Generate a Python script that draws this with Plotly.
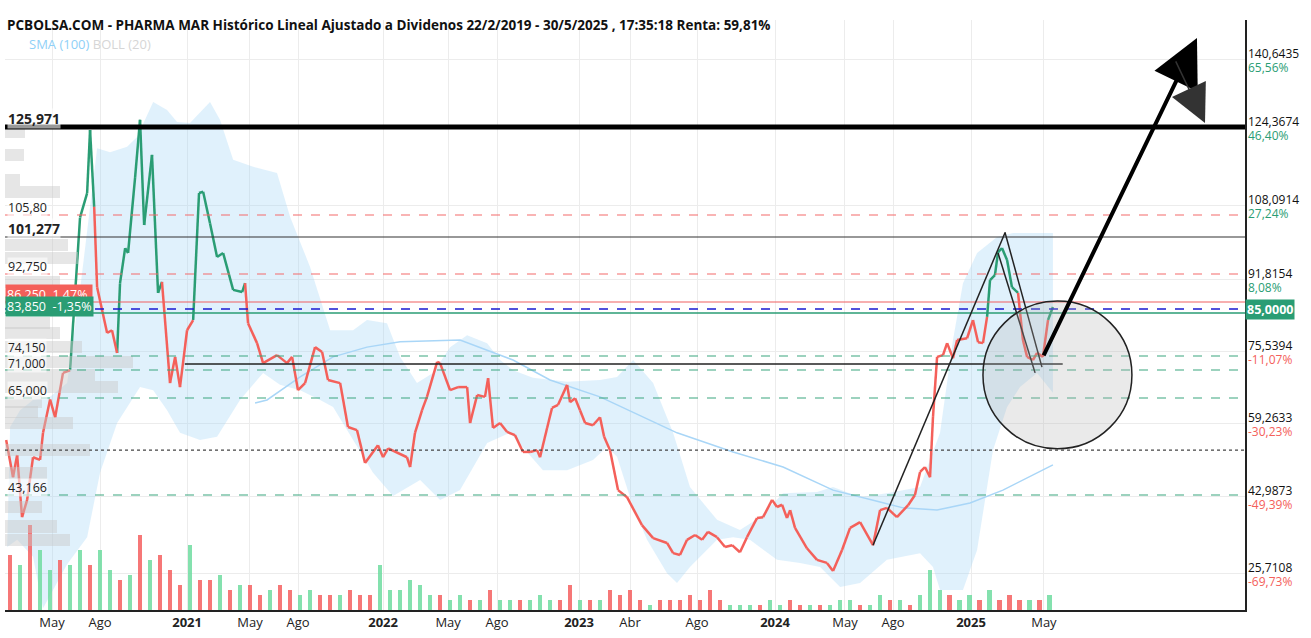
import numpy as np
import plotly.graph_objects as go

# ---- data (x in decimal years, y in adjusted price) ----
price_t = [2020.077, 2020.112, 2020.133, 2020.158, 2020.184, 2020.214, 2020.250, 2020.265, 2020.301, 2020.327,
           2020.367, 2020.403, 2020.454, 2020.490, 2020.505, 2020.526, 2020.541, 2020.592, 2020.617, 2020.643,
           2020.658, 2020.684, 2020.699, 2020.735, 2020.760, 2020.781, 2020.821, 2020.852, 2020.872, 2020.913,
           2020.939, 2020.964, 2021.000, 2021.031, 2021.061, 2021.082, 2021.117, 2021.153, 2021.184, 2021.235,
           2021.281, 2021.296, 2021.311, 2021.357, 2021.388, 2021.459, 2021.510, 2021.536, 2021.566, 2021.602,
           2021.653, 2021.689, 2021.719, 2021.781, 2021.821, 2021.867, 2021.908, 2021.974, 2022.000, 2022.026,
           2022.122, 2022.138, 2022.163, 2022.199, 2022.224, 2022.276, 2022.291, 2022.342, 2022.383, 2022.429,
           2022.444, 2022.480, 2022.520, 2022.536, 2022.561, 2022.597, 2022.633, 2022.673, 2022.714, 2022.750,
           2022.786, 2022.801, 2022.837, 2022.862, 2022.893, 2022.939, 2022.954, 2022.980, 2023.005, 2023.031,
           2023.071, 2023.107, 2023.128, 2023.158, 2023.199, 2023.245, 2023.321, 2023.378, 2023.449, 2023.480,
           2023.515, 2023.551, 2023.592, 2023.628, 2023.658, 2023.704, 2023.745, 2023.781, 2023.821, 2023.857,
           2023.908, 2023.939, 2023.985, 2024.010, 2024.036, 2024.061, 2024.077, 2024.102, 2024.163, 2024.214,
           2024.265, 2024.296, 2024.342, 2024.383, 2024.434, 2024.500, 2024.536, 2024.571, 2024.622, 2024.679,
           2024.714, 2024.740, 2024.765, 2024.791, 2024.806, 2024.827, 2024.857, 2024.878, 2024.908, 2024.929,
           2024.980, 2025.010, 2025.036, 2025.061, 2025.082, 2025.097, 2025.122, 2025.138, 2025.158, 2025.184,
           2025.209, 2025.240, 2025.265, 2025.286, 2025.316, 2025.337, 2025.367, 2025.393, 2025.418]
price = [53.9, 45.5, 50.5, 36.5, 40.4, 50.0, 49.4, 55.5, 63.0, 59.0,
         69.0, 69.6, 104.0, 109.5, 123.7, 106.4, 88.3, 78.0, 78.6, 73.5,
         89.2, 97.1, 96.0, 113.1, 126.0, 102.3, 118.1, 87.0, 89.5, 66.7,
         72.6, 65.8, 78.6, 80.9, 109.5, 109.8, 102.7, 95.1, 96.0, 87.7,
         87.2, 89.2, 80.2, 75.7, 71.2, 73.0, 71.2, 72.6, 65.1, 66.7,
         74.8, 73.7, 67.4, 66.7, 56.8, 56.1, 48.7, 52.7, 50.0, 52.0,
         50.0, 47.8, 55.5, 60.6, 63.6, 71.5, 71.2, 65.1, 65.8, 65.8,
         57.7, 64.0, 63.6, 67.8, 56.6, 57.7, 55.7, 55.0, 51.2, 51.2,
         51.6, 50.0, 56.6, 61.1, 61.8, 66.3, 62.4, 63.3, 60.6, 57.7,
         57.2, 59.0, 54.6, 51.6, 42.6, 41.0, 34.7, 31.8, 30.7, 28.4,
         28.0, 31.4, 32.5, 31.4, 33.2, 32.0, 29.8, 30.2, 28.6, 32.0,
         36.3, 36.5, 40.4, 38.8, 39.3, 36.3, 38.1, 34.1, 29.5, 26.9,
         26.2, 24.4, 29.1, 34.1, 35.4, 30.2, 38.1, 38.6, 36.5, 39.2,
         41.5, 46.7, 47.8, 45.5, 59.1, 72.6, 73.0, 75.7, 72.3, 76.4,
         76.8, 80.9, 75.9, 75.7, 81.6, 89.9, 91.0, 96.2, 97.1, 94.4,
         88.3, 87.0, 76.4, 72.6, 71.9, 73.5, 72.6, 80.9, 83.85]
# periods drawn in green (start, end)
up_runs = [(2020.403, 2020.526), (2020.643, 2020.872), (2021.031, 2021.296),
           (2025.082, 2025.240), (2025.393, 2025.418)]

sma_t = [2021.347, 2021.408, 2021.577, 2021.745, 2021.918, 2022.087, 2022.393, 2022.663, 2022.852, 2023.107,
         2023.500, 2023.786, 2024.041, 2024.296, 2024.536, 2024.653, 2024.827, 2024.995, 2025.163, 2025.418]
sma = [62.2, 62.9, 68.1, 72.6, 74.8, 76.0, 76.4, 71.9, 67.4, 63.6,
       55.5, 51.2, 47.8, 42.6, 39.9, 38.6, 38.1, 39.7, 42.6, 48.3]

boll_up_t = [2020.097, 2020.148, 2020.214, 2020.301, 2020.388, 2020.454, 2020.541, 2020.607, 2020.694, 2020.745,
             2020.827, 2020.898, 2020.949, 2021.015, 2021.117, 2021.168, 2021.235, 2021.337, 2021.459, 2021.526,
             2021.628, 2021.730, 2021.847, 2021.918, 2022.020, 2022.087, 2022.173, 2022.255, 2022.342, 2022.429,
             2022.531, 2022.597, 2022.663, 2022.765, 2022.939, 2023.107, 2023.194, 2023.276, 2023.378, 2023.480,
             2023.566, 2023.704, 2023.821, 2023.923, 2024.041, 2024.214, 2024.296, 2024.434, 2024.571, 2024.740,
             2024.842, 2024.908, 2024.959, 2025.031, 2025.133, 2025.214, 2025.418]
boll_up = [56.8, 60.6, 62.9, 63.6, 66.7, 87.7, 119.6, 118.7, 119.9, 122.1,
           130.0, 128.2, 125.5, 125.3, 130.0, 126.0, 117.0, 115.4, 114.0, 104.1,
           92.8, 78.6, 78.6, 80.9, 80.2, 72.6, 66.7, 69.0, 74.8, 77.5,
           75.7, 71.9, 69.6, 67.9, 67.0, 67.4, 68.1, 71.9, 66.7, 55.5,
           43.3, 35.9, 33.6, 36.5, 41.9, 42.2, 43.3, 41.0, 41.9, 43.3,
           55.5, 76.4, 89.2, 96.0, 99.6, 100.5, 100.5]
boll_lo_t = [2020.082, 2020.133, 2020.214, 2020.265, 2020.388, 2020.490, 2020.556, 2020.643, 2020.760, 2020.827,
             2020.898, 2020.964, 2021.066, 2021.153, 2021.270, 2021.388, 2021.474, 2021.577, 2021.679, 2021.745,
             2021.847, 2021.949, 2022.051, 2022.189, 2022.291, 2022.393, 2022.531, 2022.648, 2022.816, 2022.939,
             2023.071, 2023.143, 2023.194, 2023.276, 2023.347, 2023.449, 2023.500, 2023.566, 2023.704, 2023.786,
             2023.872, 2024.010, 2024.128, 2024.230, 2024.332, 2024.434, 2024.571, 2024.740, 2024.806, 2024.842,
             2024.959, 2025.031, 2025.112, 2025.184, 2025.250, 2025.337, 2025.418]
boll_lo = [29.8, 31.4, 27.6, 16.0, 25.9, 32.0, 46.5, 57.7, 65.8, 65.1,
           60.6, 55.5, 53.9, 54.6, 62.9, 69.0, 66.3, 65.1, 62.9, 61.3,
           53.9, 46.5, 41.3, 44.9, 40.4, 42.6, 53.2, 55.5, 47.1, 47.1,
           49.4, 52.3, 50.1, 38.8, 31.4, 23.9, 21.7, 25.3, 31.4, 32.0,
           31.4, 26.9, 26.2, 25.3, 20.8, 21.7, 26.9, 28.4, 25.3, 20.1,
           20.1, 29.1, 51.6, 61.3, 65.8, 69.0, 64.5]

volume = [55, 45, 85, 60, 40, 50, 45, 60, 45, 60,
          40, 30, 35, 75, 50, 55, 40, 25, 65, 30,
          30, 35, 20, 25, 25, 15, 20, 25, 20, 15,
          20, 15, 15, 15, 20, 15, 15, 45, 20, 20,
          30, 25, 15, 15, 10, 15, 10, 10, 20, 10,
          10, 10, 10, 15, 10, 10, 25, 10, 10, 10,
          20, 15, 20, 10, 5, 10, 10, 10, 15, 10,
          20, 10, 5, 5, 5, 5, 10, 5, 10, 5,
          5, 5, 5, 10, 10, 5, 5, 15, 10, 10,
          5, 15, 40, 20, 15, 10, 15, 10, 20, 10,
          15, 10, 10, 10, 15]
vol_dir = ("rgrggrggrg" "grgrgrrrgr" "rgrgrrgrrg" "grrgrrrggg" "gggrggrgrg"
           "grgggrrgrg" "rrrrgrrrrr" "rrgggrggrr" "grgggrggrg" "rgggrggrgr" "rrgrg")
vol_t = 2020.097 + np.arange(len(volume)) * 0.051

# volume-at-price profile on the left
profile_price = [123.3, 118.1, 112.4, 109.7, 97.8, 94.9, 89.5, 80.2, 78.0, 74.8, 71.4,
                 68.5, 65.8, 62.4, 60.2, 57.7, 51.6, 46.5, 38.8, 34.4, 31.4]
profile_vol = [20, 19, 15, 55, 63, 73, 55, 45, 55, 77, 128,
               90, 113, 37, 33, 68, 85, 42, 37, 52, 65]

axis_vals = [139.68, 124.26, 106.80, 90.14, 73.92, 57.71, 41.05, 23.93]
axis_text = ["140,6435", "124,3674", "108,0914", "91,8154", "75,5394", "59,2633", "42,9873", "25,7108"]
axis_pct = ["65,56%", "46,40%", "27,24%", "8,08%", "-11,07%", "-30,23%", "-49,39%", "-69,73%"]

x_ticks = [2020.311, 2020.556, 2021.0, 2021.321, 2021.566, 2022.0, 2022.332, 2022.582,
           2023.0, 2023.26, 2023.602, 2024.0, 2024.357, 2024.602, 2025.0, 2025.372]
x_labels = ["May", "Ago", "<b>2021</b>", "May", "Ago", "<b>2022</b>", "May", "Ago",
            "<b>2023</b>", "Abr", "Ago", "<b>2024</b>", "May", "Ago", "<b>2025</b>", "May"]

GREEN = "#2a9d74"
RED = "#f4605a"

fig = go.Figure()

# volume profile
fig.add_trace(go.Bar(x=profile_vol, y=profile_price, orientation="h", width=2.8, xaxis="x2",
                     marker=dict(color="rgba(200,200,200,0.45)", line=dict(width=0)), showlegend=False))

# bollinger band
fig.add_trace(go.Scatter(x=boll_up_t + boll_lo_t[::-1], y=boll_up + boll_lo[::-1], fill="toself",
                         fillcolor="rgba(160,210,245,0.32)", line=dict(width=0), hoverinfo="skip",
                         showlegend=False))
fig.add_trace(go.Scatter(x=sma_t, y=sma, mode="lines", line=dict(color="#a9d6f7", width=1.5),
                         showlegend=False))

# volume
vol_col = ["rgba(110,220,160,0.85)" if d == "g" else "rgba(245,95,95,0.85)" for d in vol_dir]
fig.add_trace(go.Bar(x=vol_t, y=volume, marker=dict(color=vol_col, line=dict(width=0)),
                     width=0.022, yaxis="y2", showlegend=False))

# price line, coloured by runs
def is_up(a, b):
    return any(s <= a and b <= e for s, e in up_runs)

segs = {GREEN: ([], []), RED: ([], [])}
for i in range(len(price) - 1):
    c = GREEN if is_up(price_t[i], price_t[i + 1]) else RED
    xs, ys = segs[c]
    xs += [price_t[i], price_t[i + 1], None]
    ys += [price[i], price[i + 1], None]
for c, (xs, ys) in segs.items():
    fig.add_trace(go.Scatter(x=xs, y=ys, mode="lines", line=dict(color=c, width=2.5),
                             showlegend=False))

# horizontal levels
def hline(y, color, width=1, dash="solid", x0=0, x1=1):
    fig.add_shape(type="line", xref="paper", yref="y", x0=x0, x1=x1, y0=y, y1=y,
                  line=dict(color=color, width=width, dash=dash))

hline(124.37, "black", 5)
hline(104.55, "#f36b6b", 1.2, "dash")
hline(99.6, "#333", 1.2)
hline(91.27, "#f36b6b", 1.2, "dash")
hline(84.96, "#f06060", 1.2)
hline(83.38, "#1a1ad0", 1.5, "dash")
hline(82.5, GREEN, 1.5)
hline(72.8, "#3aa57e", 1.2, "dash")
hline(71.0, "#222", 1.3, x0=0.145, x1=0.853)
hline(69.65, "#3aa57e", 1.2, "dash")
hline(63.34, "#3aa57e", 1.2, "dash")
hline(51.6, "#444", 1.3, "dot")
hline(41.5, "#3aa57e", 1.2, "dash")

# hand-drawn trend lines and circle
for x0, y0, x1, y1 in [(2024.500, 30.2, 2025.173, 100.5), (2025.138, 96.0, 2025.327, 69.0),
                       (2025.173, 100.7, 2025.362, 70.3)]:
    fig.add_shape(type="line", x0=x0, y0=y0, x1=x1, y1=y1, line=dict(color="#222", width=1.5))
fig.add_shape(type="circle", x0=2025.061, x1=2025.821, y0=51.9, y1=85.2,
              fillcolor="rgba(180,180,180,0.28)", line=dict(color="#222", width=1.5))
fig.add_annotation(x=2026.153, y=144.4, ax=2025.367, ay=72.6, axref="x", ayref="y",
                   showarrow=True, arrowhead=2, arrowwidth=4, arrowsize=2.4, arrowcolor="black", text="")
fig.add_annotation(x=2026.194, y=125.3, ax=2026.041, ay=139.5, axref="x", ayref="y",
                   showarrow=True, arrowhead=2, arrowwidth=1.5, arrowsize=5, arrowcolor="#333", text="")

# right axis labels
for v, t, p in zip(axis_vals, axis_text, axis_pct):
    fig.add_annotation(xref="paper", x=1, y=v, xanchor="left", xshift=1, yshift=6, text=t,
                       showarrow=False, font=dict(size=12, color="#111"))
    fig.add_annotation(xref="paper", x=1, y=v, xanchor="left", xshift=1, yshift=-8, text=p,
                       showarrow=False, font=dict(size=12, color=GREEN if not p.startswith("-") else RED))
fig.add_annotation(xref="paper", x=1, y=83.3, xanchor="left", xshift=0, text="<b>85,0000</b>",
                   showarrow=False, bgcolor=GREEN, font=dict(size=12.5, color="white"), borderpad=1)

# left level labels
left_labels = [(126.4, "<b>125,971</b>", 14), (106.35, "105,80", 12.5), (101.6, "<b>101,277</b>", 14),
               (93.07, "92,750", 12.5), (74.8, "74,150", 12), (71.1, "71,000", 12),
               (65.14, "65,000", 12.5), (43.3, "43,166", 12.5)]
for y, t, s in left_labels:
    fig.add_annotation(xref="paper", x=0.002, y=y, xanchor="left", text=t, showarrow=False,
                       font=dict(size=s, color="#222"), bgcolor="rgba(255,255,255,0.6)", borderpad=0)
fig.add_annotation(xref="paper", x=0.0, y=86.76, xanchor="left", text="86,250  1,47% ", showarrow=False,
                   font=dict(size=12.5, color="white"), bgcolor=RED, borderpad=1)
fig.add_annotation(xref="paper", x=0.0, y=84.06, xanchor="left", text="83,850  -1,35%", showarrow=False,
                   font=dict(size=12.5, color="white"), bgcolor=GREEN, borderpad=1)

# header
fig.add_annotation(xref="paper", yref="paper", x=0.0, y=1.0102, xanchor="left",
                   text="<b>PCBOLSA.COM - PHARMA MAR Histórico Lineal Ajustado a Dividenos 22/2/2019 - 30/5/2025 , 17:35:18 Renta: 59,81%</b>",
                   showarrow=False, font=dict(size=13.5, color="#111"))
fig.add_annotation(xref="paper", yref="paper", x=0.018, y=0.978, xanchor="left",
                   text="<span style='color:#8fd0f7'>SMA (100)</span> <span style='color:#d6d6d6'>BOLL (20)</span>",
                   showarrow=False, font=dict(size=13))

fig.update_layout(
    width=1311, height=638,
    margin=dict(l=5, r=66, t=20, b=28, autoexpand=False),
    plot_bgcolor="white", paper_bgcolor="white",
    font=dict(family="Open Sans, Arial", color="#222"),
    bargap=0,
    xaxis=dict(range=[2020.071, 2026.398], tickvals=x_ticks, ticktext=x_labels, showgrid=True,
               gridcolor="#ececec", showline=True, linecolor="#222", linewidth=1.5, ticks="",
               tickfont=dict(size=13, color="#222"), zeroline=False, automargin=False),
    xaxis2=dict(range=[0, 1240], overlaying="x", visible=False),
    yaxis=dict(range=[15.6, 148.47], side="right", tickvals=axis_vals, showticklabels=False,
               showgrid=True, gridcolor="#ececec", showline=True, linecolor="#222", linewidth=1.5,
               zeroline=False, automargin=False),
    yaxis2=dict(range=[0, 590], overlaying="y", visible=False),
    showlegend=False,
)

fig.write_html("out.html", config={"displayModeBar": False},
               post_script="document.body.style.margin='0';")
